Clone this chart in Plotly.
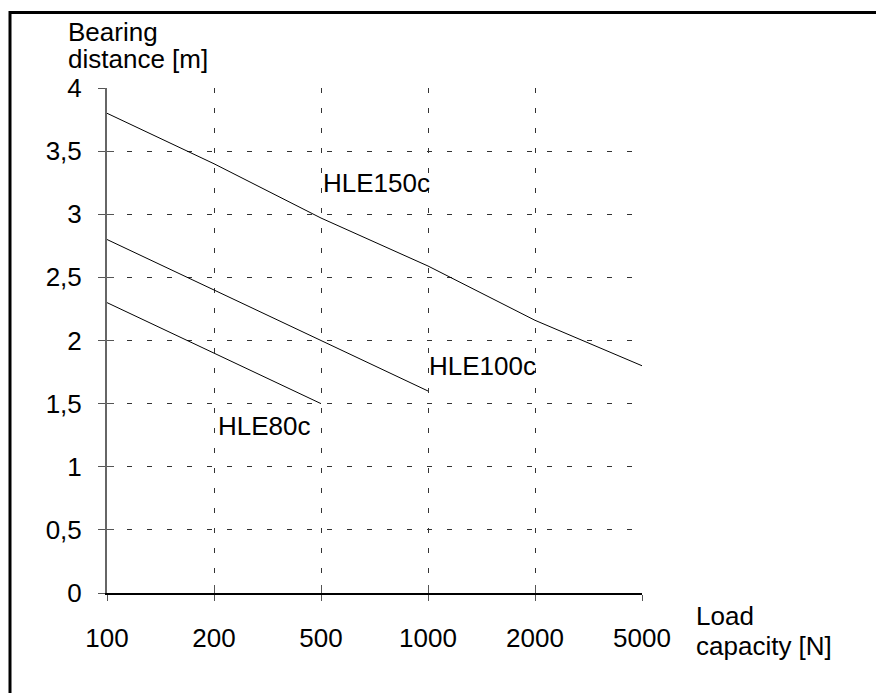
import plotly.graph_objects as go

loads = ["100", "200", "500", "1000", "2000", "5000"]
hle150c = [3.8, 3.4, 2.97, 2.59, 2.16, 1.8]
hle100c = [2.8, 2.4, 2.0, 1.6]
hle80c = [2.3, 1.9, 1.5]
y_ticks = [0, 0.5, 1, 1.5, 2, 2.5, 3, 3.5, 4]
y_ticktext = ["0", "0,5", "1", "1,5", "2", "2,5", "3", "3,5", "4"]

FONT = "Liberation Sans, Arial, sans-serif"
FS = 26
OFF = 8  # page body margin

fig = go.Figure()
for name, vals in [("HLE150c", hle150c), ("HLE100c", hle100c), ("HLE80c", hle80c)]:
    fig.add_trace(go.Scatter(x=loads[:len(vals)], y=vals, mode="lines", name=name,
                             line=dict(color="black", width=1), showlegend=False,
                             hoverinfo="skip"))

W, H = 884, 693
L, T = 107 - OFF, 88 - OFF
PW, PH = 535, 505
R, B = W - L - PW, H - T - PH

fig.update_layout(
    width=W, height=H,
    margin=dict(l=L, r=R, t=T, b=B, pad=0),
    paper_bgcolor="white", plot_bgcolor="white",
    font=dict(family=FONT, size=FS, color="black"),
    xaxis=dict(type="category", categoryorder="array", categoryarray=loads,
               range=[0, 5], showgrid=True, gridcolor="#333", gridwidth=1,
               griddash="5px,15px", showline=True, linecolor="black", linewidth=1.5,
               ticks="outside", ticklen=6, tickcolor="#555", tickwidth=1,
               zeroline=False, ticklabelstandoff=15,
               tickfont=dict(family=FONT, size=FS, color="black")),
    yaxis=dict(range=[0, 4], tickvals=y_ticks, ticktext=y_ticktext,
               showgrid=True, gridcolor="#333", gridwidth=1, griddash="5px,15px",
               showline=True, linecolor="#666", linewidth=2,
               ticks="outside", ticklen=7, tickcolor="#555", tickwidth=1,
               zeroline=False, ticklabelstandoff=11,
               tickfont=dict(family=FONT, size=FS, color="black")),
    xaxis2=dict(overlaying="x", range=[0, 5], tickvals=[0, 1, 2, 3, 4, 5],
                ticks="inside", ticklen=8, tickcolor="#555", tickwidth=1,
                showticklabels=False, showgrid=False, showline=False, zeroline=False,
                side="bottom", anchor="y"),
    yaxis2=dict(overlaying="y", range=[0, 4], tickvals=y_ticks,
                ticks="inside", ticklen=7, tickcolor="#555", tickwidth=1,
                showticklabels=False, showgrid=False, showline=False, zeroline=False,
                side="left", anchor="x"),
)
# invisible helper so overlay tick axes render
fig.add_trace(go.Scatter(x=[0], y=[0], xaxis="x2", yaxis="y2", mode="markers",
                         marker=dict(size=0.1, opacity=0), showlegend=False, hoverinfo="skip"))

def px(xp):
    return (xp - OFF - L) / PW
def py(yp):
    return (H - B - (yp - OFF)) / PH

ann = dict(showarrow=False, font=dict(family=FONT, size=FS, color="black"),
           xanchor="left", yanchor="bottom", xref="paper", yref="paper")
fig.add_annotation(text="Bearing", x=px(66), y=py(49), **ann)
fig.add_annotation(text="distance [m]", x=px(66), y=py(76), **ann)
fig.add_annotation(text="Load", x=px(694), y=py(633), **ann)
fig.add_annotation(text="capacity [N]", x=px(694), y=py(663), **ann)

lab = dict(showarrow=False, font=dict(family=FONT, size=FS, color="black"),
           xanchor="left", yanchor="middle", xref="x", yref="y")
fig.add_annotation(text="HLE150c", x=2.0, y=3.25, **lab)
fig.add_annotation(text="HLE100c", x=2.99, y=1.80, **lab)
fig.add_annotation(text="HLE80c", x=1.02, y=1.32, **lab)

# outer frame (only left and top edges visible in the picture)
fig.add_shape(type="rect", xref="paper", yref="paper",
              x0=px(10), y0=py(12.5), x1=px(W + 40), y1=py(H + 40),
              line=dict(color="black", width=3), fillcolor="rgba(0,0,0,0)", layer="above")

fig.write_html("out.html")
